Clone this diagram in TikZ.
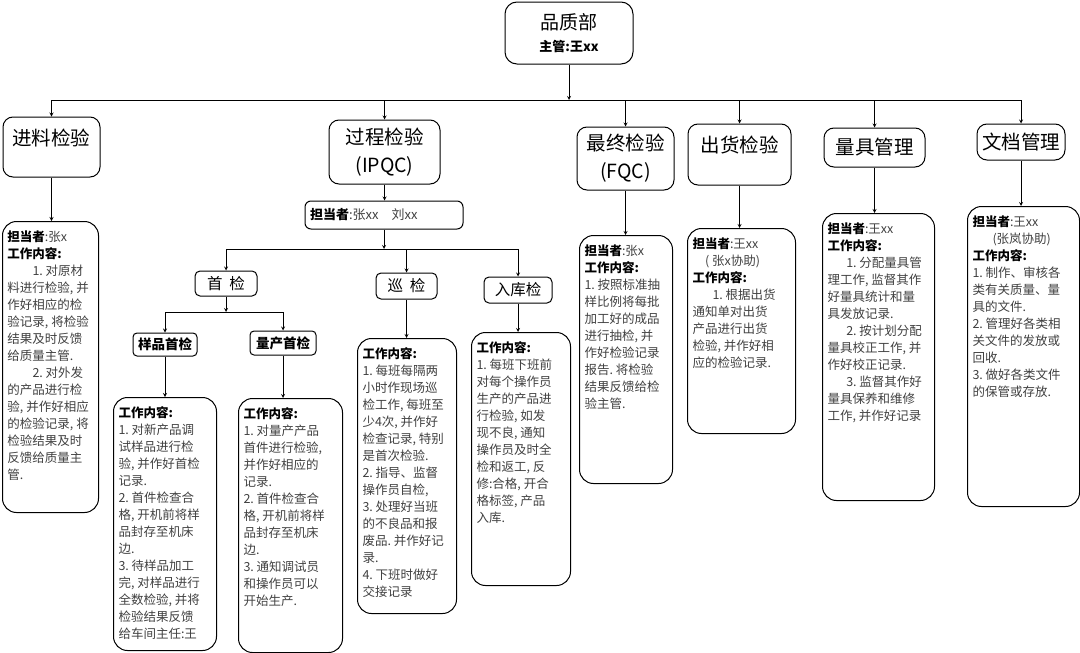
\documentclass[tikz,border=0pt]{standalone}
\usepackage{fontspec}
\setmainfont{Noto Sans CJK SC}
\usepackage{tikz}
\usetikzlibrary{arrows}

\newcommand{\worktext}[3]{\parbox[t][#2][t]{#1}{\vspace*{9pt}#3}}

\begin{document}
\begin{tikzpicture}[
  x=1pt, y=-1pt,
  every node/.style={draw, line width=1pt, inner sep=3pt},
  dept/.style={rounded corners=10pt, align=center, font=\fontsize{19.5}{28}\selectfont},
  sub/.style={rounded corners=5pt, align=center, font=\fontsize{15.5}{18}\selectfont},
  minor/.style={rounded corners=4pt, align=center, font=\fontsize{13.5}{16}\selectfont\bfseries},
  work/.style={anchor=north west, rounded corners=14pt, inner xsep=5pt, inner ysep=0pt, text=black!75, font=\fontsize{12.5}{17}\selectfont},
  line width=0.8pt, ->, >=stealth
]
\useasboundingbox (0,0) rectangle (1080,653);

% Department and its sections
\node[dept, rounded corners=12pt, minimum width=128, minimum height=62, font=\fontsize{19}{22}\selectfont] (quality) at (569,33) {品质部\\{\fontsize{13}{16}\selectfont\bfseries 主管:王xx}};
\node[dept, minimum width=97, minimum height=60, text height=17pt, text depth=21pt] (incoming) at (51.5,147) {进料检验};
\node[dept, minimum width=111, minimum height=64] (process) at (384.5,152) {过程检验\\(IPQC)};
\node[dept, minimum width=97, minimum height=63] (final) at (625.5,158.5) {最终检验\\(FQC)};
\node[dept, minimum width=103, minimum height=61, text height=17pt, text depth=21pt] (outgoing) at (739.5,154.5) {出货检验};
\node[dept, minimum width=101, minimum height=39] (gauge) at (874.5,147.5) {量具管理};
\node[dept, minimum width=88, minimum height=36] (docs) at (1021,142) {文档管理};

% IPQC branch
\node[rounded corners=6pt, minimum width=158, minimum height=28, text width=148pt, align=left, text=black!75, font=\fontsize{13}{16}\selectfont] (processlead) at (384,215) {\textbf{\color{black}担当者}:张xx~~~刘xx};
\node[sub, minimum width=62, minimum height=25] (firstcheck) at (226,283.5) {首\hspace{0.45em}检};
\node[sub, minimum width=61, minimum height=26] (patrol) at (406.5,286) {巡\hspace{0.45em}检};
\node[sub, minimum width=68, minimum height=26] (storage) at (518,290) {入库检};
\node[minor, minimum width=64, minimum height=23] (sample) at (165,344.5) {样品首检};
\node[minor, minimum width=66, minimum height=24] (mass) at (283,343) {量产首检};

% Work content
\node[work] (incomingwork) at (2,221) {\worktext{86pt}{291pt}{%
\textbf{\color{black}担当者}:张x\\
\textbf{\color{black}工作内容:}\\
\hspace*{2em}1.~对原材\\
料进行检验,~并\\
作好相应的检\\
验记录,~将检验\\
结果及时反馈\\
给质量主管.\\
\hspace*{2em}2.~对外发\\
的产品进行检\\
验,~并作好相应\\
的检验记录,~将\\
检验结果及时\\
反馈给质量主\\
管.}};
\node[work] (samplework) at (113,397) {\worktext{93pt}{253pt}{%
\textbf{\color{black}工作内容:}\\
1.~对新产品调\\
试样品进行检\\
验,~并作好首检\\
记录.\\
2.~首件检查合\\
格,~开机前将样\\
品封存至机床\\
边.\\
3.~待样品加工\\
完,~对样品进行\\
全数检验,~并将\\
检验结果反馈\\
给车间主任:王}};
\node[work] (masswork) at (238,398) {\worktext{94pt}{254pt}{%
\textbf{\color{black}工作内容:}\\
1.~对量产产品\\
首件进行检验,\\
并作好相应的\\
记录.\\
2.~首件检查合\\
格,~开机前将样\\
品封存至机床\\
边.\\
3.~通知调试员\\
和操作员可以\\
开始生产.}};
\node[work] (patrolwork) at (357,338) {\worktext{89pt}{275pt}{%
\textbf{\color{black}工作内容:}\\
1.~每班每隔两\\
小时作现场巡\\
检工作,~每班至\\
少4次,~并作好\\
检查记录,~特别\\
是首次检验.\\
2.~指导、监督\\
操作员自检,\\
3.~处理好当班\\
的不良品和报\\
废品.~并作好记\\
录.\\
4.~下班时做好\\
交接记录}};
\node[work] (storagework) at (471,332) {\worktext{89pt}{253pt}{%
\textbf{\color{black}工作内容:}\\
1.~每班下班前\\
对每个操作员\\
生产的产品进\\
行检验,~如发\\
现不良,~通知\\
操作员及时全\\
检和返工,~反\\
修:合格,~开合\\
格标签,~产品\\
入库.}};
\node[work] (finalwork) at (579,235) {\worktext{83pt}{248pt}{%
\textbf{\color{black}担当者}:张x\\
\textbf{\color{black}工作内容:}\\
1.~按照标准抽\\
样比例将每批\\
加工好的成品\\
进行抽检,~并\\
作好检验记录\\
报告.~将检验\\
结果反馈给检\\
验主管.}};
\node[work] (outgoingwork) at (687,228) {\worktext{98pt}{205pt}{%
\textbf{\color{black}担当者}:王xx\\
\hspace*{1em}(~张x协助)\\
\textbf{\color{black}工作内容:}\\
\hspace*{1.6em}1.~根据出货\\
通知单对出货\\
产品进行出货\\
检验,~并作好相\\
应的检验记录.}};
\node[work] (gaugework) at (822,213) {\worktext{102pt}{287pt}{%
\textbf{\color{black}担当者}:王xx\\
\textbf{\color{black}工作内容:}\\
\hspace*{1.5em}1.~分配量具管\\
理工作,~监督其作\\
好量具统计和量\\
具发放记录.\\
\hspace*{1.5em}2.~按计划分配\\
量具校正工作,~并\\
作好校正记录.\\
\hspace*{1.5em}3.~监督其作好\\
量具保养和维修\\
工作,~并作好记录}};
\node[work] (docswork) at (967,206) {\worktext{102pt}{300pt}{%
\textbf{\color{black}担当者}:王xx\\
\hspace*{1.6em}(张岚协助)\\
\textbf{\color{black}工作内容:}\\
1.~制作、审核各\\
类有关质量、量\\
具的文件.\\
2.~管理好各类相\\
关文件的发放或\\
回收.\\
3.~做好各类文件\\
的保管或存放.}};

% Connections
\coordinate (bus) at (569,100);
\draw (quality.south) -- (quality.south |- bus);
\draw[-] (incoming.north |- bus) -- (docs.north |- bus);
\draw (incoming.north |- bus) -- (incoming.north);
\draw (process.north |- bus) -- (process.north);
\draw (final.north |- bus) -- (final.north);
\draw (outgoing.north |- bus) -- (outgoing.north);
\draw (gauge.north |- bus) -- (gauge.north);
\draw (docs.north |- bus) -- (docs.north);

\draw (incoming.south) -- (incoming.south |- incomingwork.north);
\draw (process.south) -- (process.south |- processlead.north);
\draw (final.south) -- (final.south |- finalwork.north);
\draw (outgoing.south) -- (outgoing.south |- outgoingwork.north);
\draw (gauge.south) -- (gauge.south |- gaugework.north);
\draw (docs.south) -- (docs.south |- docswork.north);

\coordinate (processbus) at (384,249);
\draw (processlead.south) -- (processlead.south |- processbus);
\draw[-] (firstcheck.north |- processbus) -- (storage.north |- processbus);
\draw (firstcheck.north |- processbus) -- (firstcheck.north);
\draw (patrol.north |- processbus) -- (patrol.north);
\draw (storage.north |- processbus) -- (storage.north);
\draw (patrol.south) -- (patrol.south |- patrolwork.north);
\draw (storage.south) -- (storage.south |- storagework.north);

\coordinate (firstbus) at (226,312);
\draw (firstcheck.south) -- (firstcheck.south |- firstbus);
\draw[-] (sample.north |- firstbus) -- (mass.north |- firstbus);
\draw (sample.north |- firstbus) -- (sample.north);
\draw (mass.north |- firstbus) -- (mass.north);
\draw (sample.south) -- (sample.south |- samplework.north);
\draw (mass.south) -- (mass.south |- masswork.north);

\end{tikzpicture}
\end{document}
